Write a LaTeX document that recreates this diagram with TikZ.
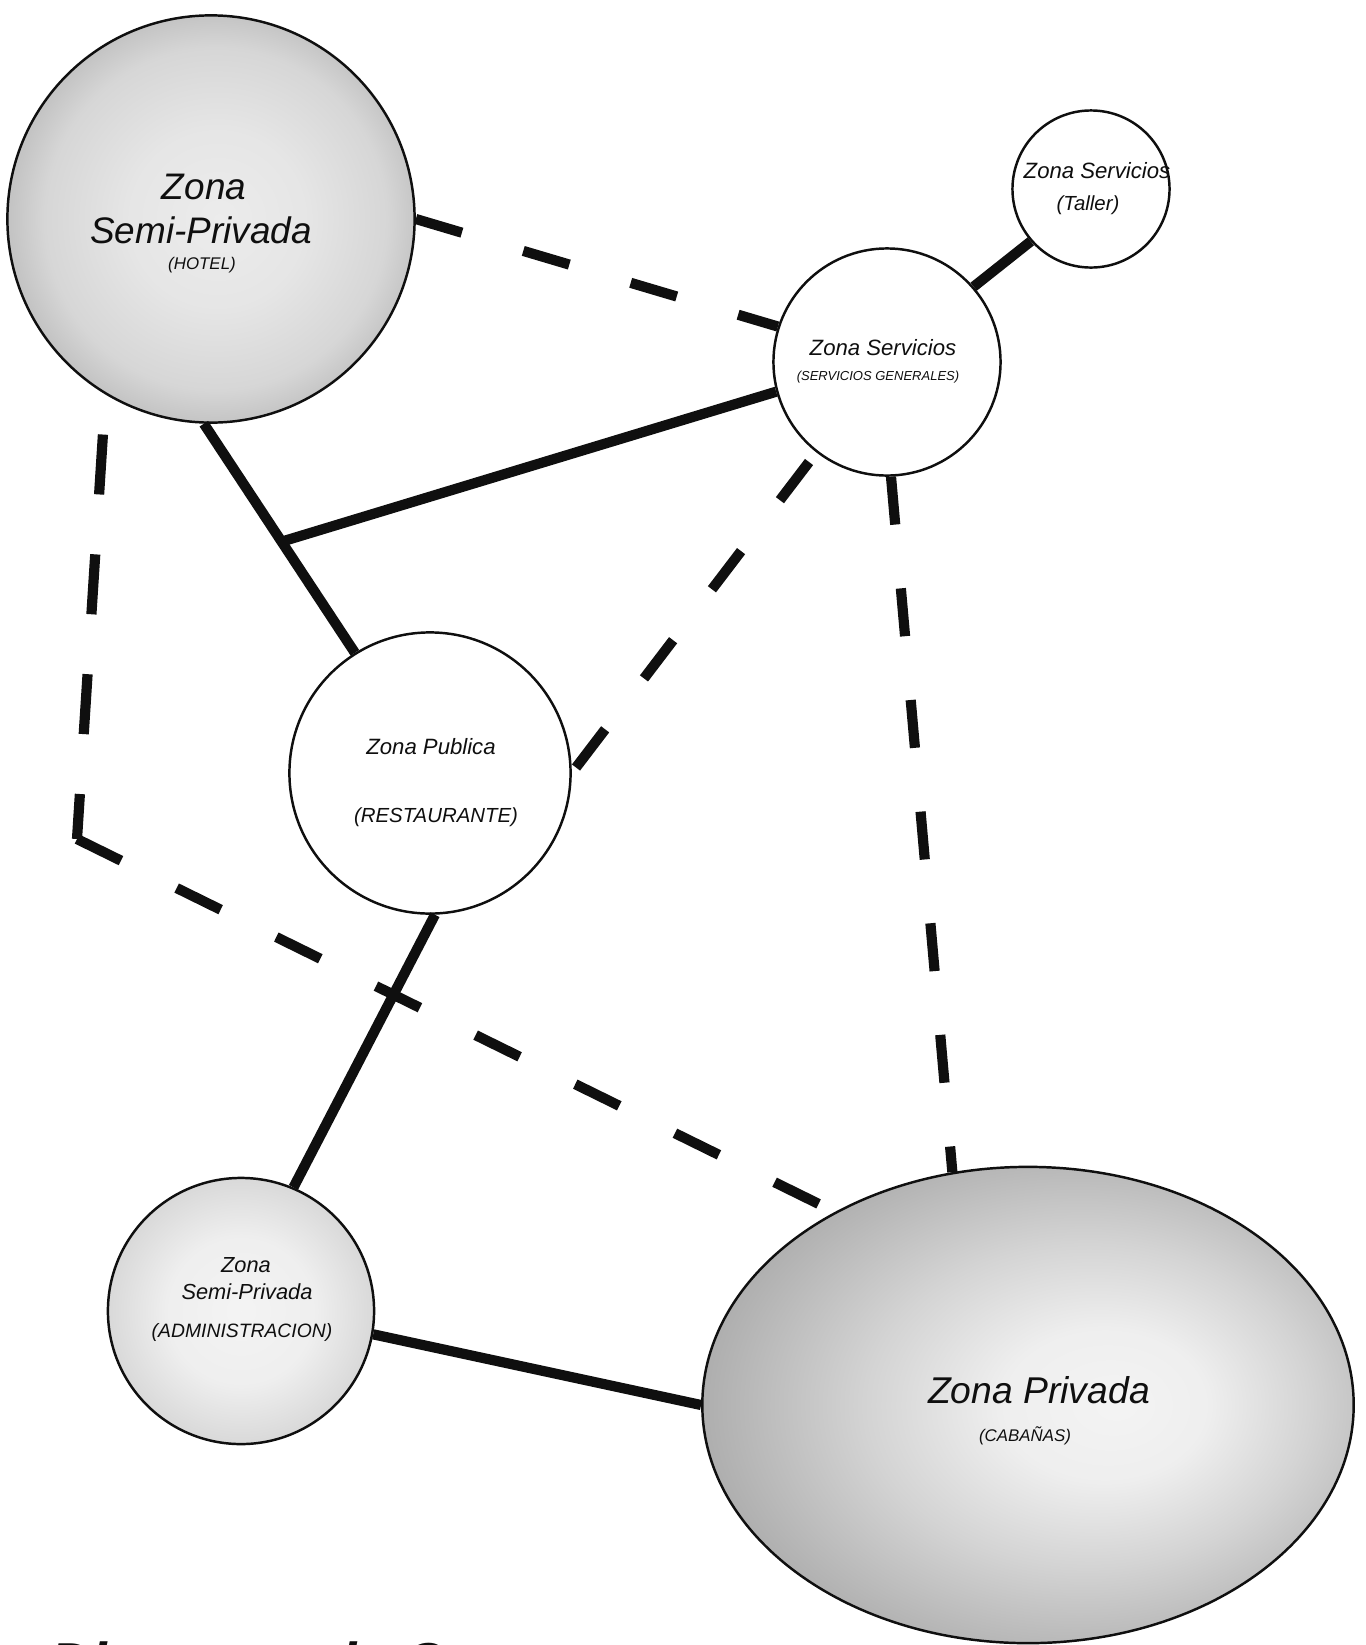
\documentclass[tikz,border=0pt]{standalone}
\usepackage{fontspec}
\setmainfont{Liberation Sans}
\usepackage{tikz}
\usetikzlibrary{shapes.geometric,calc}
\definecolor{zpInk}{RGB}{15,15,15}
\pgfdeclareradialshading{hotelShade}{\pgfpoint{1bp}{0bp}}{color(0bp)=(gray!15); color(11bp)=(gray!20); color(21bp)=(gray!32); color(25bp)=(gray!46); color(50bp)=(gray!46)}
\pgfdeclareradialshading{adminShade}{\pgfpoint{0bp}{0bp}}{color(0bp)=(gray!9); color(14bp)=(gray!13); color(25bp)=(gray!30); color(50bp)=(gray!30)}
\pgfdeclareradialshading{privShade}{\pgfpoint{7bp}{0bp}}{color(0bp)=(gray!9); color(8bp)=(gray!13); color(17bp)=(gray!34); color(23bp)=(gray!50); color(29bp)=(gray!66); color(32bp)=(gray!74); color(50bp)=(gray!74)}
\tikzset{
    zone/.style={circle, draw=zpInk, line width=0.7pt, inner sep=0pt},
    zoneText/.style={font=\fontsize{#1}{#1}\selectfont\itshape, text=zpInk, inner sep=0pt, anchor=base},
    mainLink/.style={draw=zpInk, line width=2.9pt},
    sideLink/.style={draw=zpInk, line width=2.9pt, dash pattern=on 0.48cm off 0.64cm}
}
\begin{document}
\begin{tikzpicture}[x=0.01cm, y=-0.01cm]
  \useasboundingbox (0,0) rectangle (1365,1645);

  % Zones
  \node[zone, shade, shading=hotelShade, minimum size=4.07cm] (hotel) at (211,219) {};
  \node[zone, fill=white, minimum size=1.57cm] (taller) at (1091,189) {};
  \node[zone, fill=white, minimum size=2.27cm] (gen) at (887,362) {};
  \node[zone, fill=white, minimum size=2.81cm] (rest) at (430,773) {};
  \node[zone, shade, shading=adminShade, minimum size=2.66cm] (admin) at (241,1311) {};
  \node[zone, ellipse, shade, shading=privShade, minimum width=6.51cm, minimum height=4.76cm] (cab) at (1028,1405) {};

  % Solid links
  \draw[mainLink] (gen.41) -- (taller.221);
  \draw[mainLink] (hotel.268) -- (rest.122);
  \coordinate (fork) at ($(hotel.268)!0.515!(rest.122)$);
  \draw[mainLink] (fork) -- (gen.195);
  \draw[mainLink] (rest.272) -- (admin.67);
  \draw[mainLink] (admin.-10) -- (cab.180);

  % Dashed links
  \draw[sideLink] (hotel.0) -- (gen.162);
  \draw[sideLink, dash phase=1cm] (gen.232) -- (rest.0);
  \draw[sideLink] (gen.272) -- (cab.108);
  \coordinate (bend) at (77,839);
  \draw[sideLink, dash pattern=on 0.6cm off 0.6cm, dash phase=0.8cm] (hotel.239) -- (bend);
  \draw[sideLink, dash pattern=on 0.49cm off 0.62cm] (bend) -- (cab.135);

  % Texts
  \node[zoneText=10.5] (hotel-a) at (204,199) {Zona};
  \node[zoneText=10.5] (hotel-b) at (201,243) {Semi-Privada};
  \node[zoneText=4.8] (hotel-c) at (202,269) {(HOTEL)};
  \node[zoneText=6.3] (taller-a) at (1097,178) {Zona Servicios};
  \node[zoneText=5.8] (taller-b) at (1088,210) {(Taller)};
  \node[zoneText=6.3] (gen-a) at (883,355) {Zona Servicios};
  \node[zoneText=3.7] (gen-b) at (878,380) {(SERVICIOS GENERALES)};
  \node[zoneText=6.3] (rest-a) at (431,754) {Zona Publica};
  \node[zoneText=5.8] (rest-b) at (436,822) {(RESTAURANTE)};
  \node[zoneText=6.2] (admin-a) at (246,1272) {Zona};
  \node[zoneText=6.2] (admin-b) at (247,1299) {Semi-Privada};
  \node[zoneText=5.5] (admin-c) at (242,1337) {(ADMINISTRACION)};
  \node[zoneText=10.6] (cab-a) at (1039,1403) {Zona Privada};
  \node[zoneText=4.8] (cab-b) at (1025,1441) {(CABAÑAS)};

  % Title, cut by the page edge
  \begin{scope}
    \clip (0,0) rectangle (1365,1645);
    \node[font=\fontsize{16}{16}\selectfont\bfseries\itshape, text=zpInk, inner sep=0pt, anchor=base west] (title) at (50,1682) {Diagrama de C};
  \end{scope}
\end{tikzpicture}
\end{document}
